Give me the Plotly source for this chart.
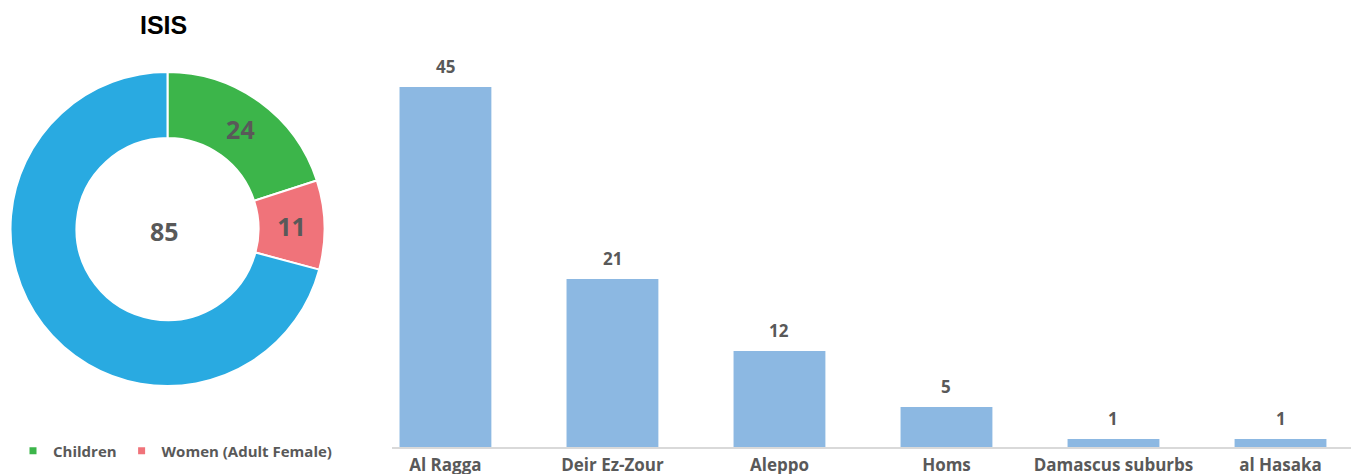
import plotly.graph_objects as go

# ---- data ----
donut_labels = ["Children", "Women (Adult Female)", "Men"]
donut_values = [24, 11, 85]
donut_colors = ["#3CB54A", "#F0737A", "#29AAE1"]

bar_categories = ["Al Ragga", "Deir Ez-Zour", "Aleppo", "Homs", "Damascus suburbs", "al Hasaka"]
bar_values = [45, 21, 12, 5, 1, 1]
bar_color = "#8CB8E2"

title_text = "ISIS"

# page body adds an 8px margin; lay out in reference pixels and shift
OFF = 8
W, H = 1359 - OFF, 474 - OFF
GREY = "#595959"
FONT = "Open Sans"


def px(x):
    return (x - OFF) / W


def py(y):
    return 1 - (y - OFF) / H


fig = go.Figure()

# donut
fig.add_trace(go.Pie(
    labels=donut_labels,
    values=donut_values,
    text=[str(v) for v in donut_values[:2]] + [""],
    textinfo="text",
    textposition="inside",
    insidetextorientation="horizontal",
    textfont=dict(family=FONT, size=25, color=GREY, weight="bold"),
    marker=dict(colors=donut_colors, line=dict(color="white", width=2)),
    hole=0.58,
    sort=False,
    direction="clockwise",
    rotation=0,
    domain=dict(x=[px(10), px(325)], y=[py(386), py(72)]),
    showlegend=False,
    hoverinfo="label+value",
))

# bars
fig.add_trace(go.Bar(
    x=bar_categories,
    y=bar_values,
    marker=dict(color=bar_color, line=dict(width=0)),
    showlegend=False,
    xaxis="x", yaxis="y",
))

# legend entries (children / women) via dummy traces on a hidden axis
for lab, col in zip(donut_labels[:2], donut_colors[:2]):
    fig.add_trace(go.Scatter(
        x=[None], y=[None], mode="markers", name=lab,
        marker=dict(symbol="square", size=7, color=col),
        xaxis="x2", yaxis="y2", showlegend=True,
    ))

annotations = []
# bar value labels
for c, v in zip(bar_categories, bar_values):
    annotations.append(dict(
        x=c, y=v, xref="x", yref="y", text=str(v), showarrow=False,
        yanchor="bottom", yshift=7,
        font=dict(family=FONT, size=17, color=GREY, weight="bold"),
    ))
# donut center label
annotations.append(dict(
    x=px(164), y=py(231), xref="paper", yref="paper",
    text=str(donut_values[2]), showarrow=False,
    xanchor="center", yanchor="middle",
    font=dict(family=FONT, size=25, color=GREY, weight="bold"),
))
# title
annotations.append(dict(
    x=px(163), y=py(25), xref="paper", yref="paper",
    text=title_text, showarrow=False, xanchor="center", yanchor="middle",
    font=dict(family="Liberation Sans, Arial", size=25, color="black", weight="bold"),
))

fig.update_layout(
    width=W, height=H,
    margin=dict(l=0, r=0, t=0, b=0, autoexpand=False),
    paper_bgcolor="white", plot_bgcolor="white",
    bargap=0.45,
    xaxis=dict(
        domain=[px(392), 1.0],
        type="category",
        categoryorder="array", categoryarray=bar_categories,
        range=[-0.32, 5.47],
        showline=True, linecolor="#D9D9D9", linewidth=2,
        showgrid=False, zeroline=False, ticks="",
        ticklabelstandoff=2,
        automargin=False,
        tickfont=dict(family=FONT, size=17, color=GREY, weight="bold"),
        fixedrange=True,
    ),
    yaxis=dict(
        domain=[py(447), py(47)],
        range=[0, 50],
        visible=False, showgrid=False, zeroline=False,
        automargin=False,
        fixedrange=True,
    ),
    xaxis2=dict(domain=[0, 0.01], visible=False, anchor="y2"),
    yaxis2=dict(domain=[0, 0.01], visible=False, anchor="x2"),
    legend=dict(
        orientation="h", x=px(13), y=py(451), xanchor="left", yanchor="middle",
        font=dict(family=FONT, size=15, color=GREY, weight="bold"),
        itemwidth=30, tracegroupgap=0, bgcolor="rgba(0,0,0,0)",
    ),
    annotations=annotations,
)

fig.write_html("out.html")
